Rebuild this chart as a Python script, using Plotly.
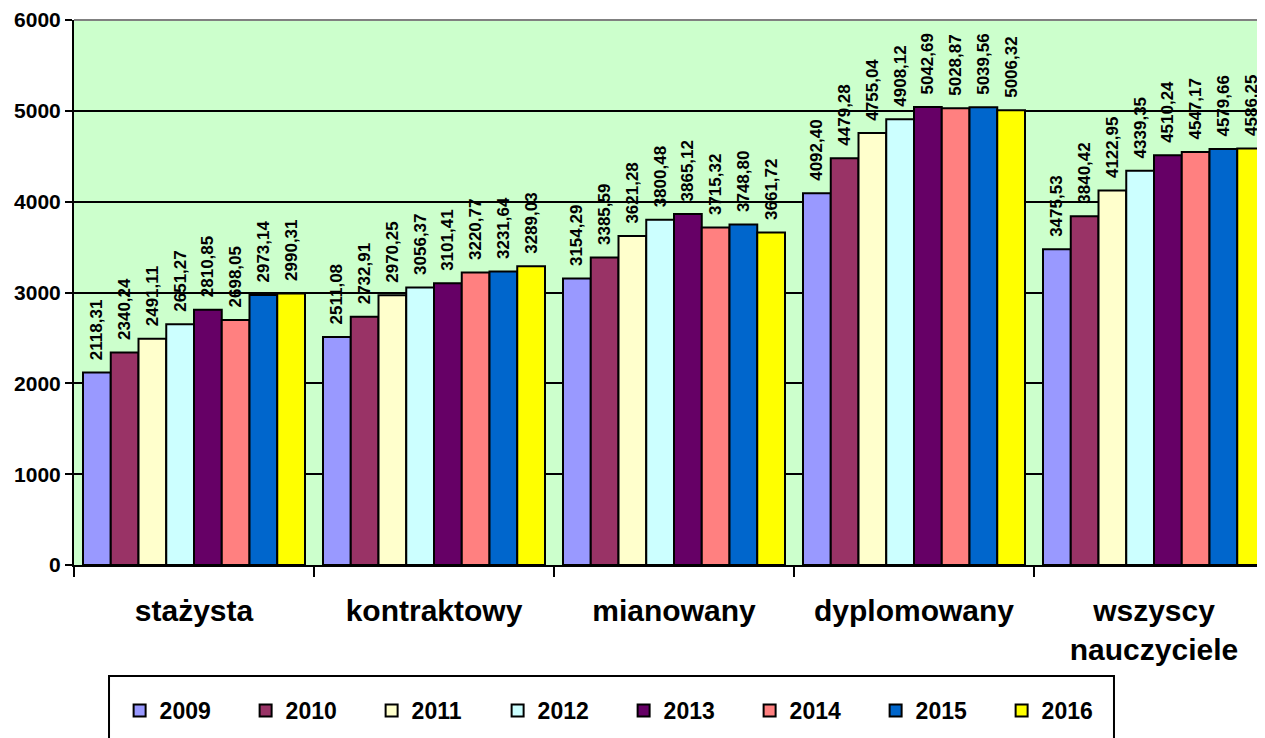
import plotly.graph_objects as go

categories = ["stażysta", "kontraktowy", "mianowany", "dyplomowany", "wszyscy<br>nauczyciele"]
years = ["2009", "2010", "2011", "2012", "2013", "2014", "2015", "2016"]
values = {
    "2009": [2118.31, 2511.08, 3154.29, 4092.40, 3475.53],
    "2010": [2340.24, 2732.91, 3385.59, 4479.28, 3840.42],
    "2011": [2491.11, 2970.25, 3621.28, 4755.04, 4122.95],
    "2012": [2651.27, 3056.37, 3800.48, 4908.12, 4339.35],
    "2013": [2810.85, 3101.41, 3865.12, 5042.69, 4510.24],
    "2014": [2698.05, 3220.77, 3715.32, 5028.87, 4547.17],
    "2015": [2973.14, 3231.64, 3748.80, 5039.56, 4579.66],
    "2016": [2990.31, 3289.03, 3661.72, 5006.32, 4586.25],
}
colors = ["#9999FF", "#993366", "#FFFFCC", "#CCFFFF", "#660066", "#FF8080", "#0066CC", "#FFFF00"]
y_ticks = [0, 1000, 2000, 3000, 4000, 5000, 6000]

fig = go.Figure()
for yr, col in zip(years, colors):
    vals = values[yr]
    fig.add_trace(go.Bar(
        name=yr, x=categories, y=vals,
        marker=dict(color=col, line=dict(color="black", width=2)),
        text=["\u00a0\u00a0" + f"{v:.2f}".replace(".", ",") for v in vals],
        textposition="outside", textangle=-90, constraintext="none",
        textfont=dict(family="Arial", size=17, color="black", weight="bold"),
        cliponaxis=False,
    ))

fig.update_layout(
    width=1257, height=730,
    barmode="group", bargap=0.075, bargroupgap=0,
    plot_bgcolor="#CCFFCC", paper_bgcolor="white",
    margin=dict(l=66, r=0, t=12, b=173, autoexpand=False),
    font=dict(family="Arial", color="black"),
    xaxis=dict(
        type="category", range=[-0.5, 4.4625], tickson="boundaries",
        ticks="outside", ticklen=10, tickwidth=2, tickcolor="black",
        showline=True, linecolor="black", linewidth=2,
        showgrid=False, automargin=False,
        tickfont=dict(family="Arial", size=30, color="black", weight="bold"),
        ticklabelstandoff=18,
    ),
    yaxis=dict(
        range=[0, 6000], tickvals=y_ticks, ticktext=[str(t) for t in y_ticks],
        ticks="outside", ticklen=7, tickwidth=2, tickcolor="black",
        showline=True, linecolor="black", linewidth=2, automargin=False,
        showgrid=True, gridcolor="black", gridwidth=2, zeroline=False,
        tickfont=dict(family="Arial", size=21, color="black", weight="bold"),
    ),
    legend=dict(
        orientation="h", x=0.0383, xanchor="left", y=-0.2275, yanchor="top",
        entrywidth=81, bgcolor="rgba(0,0,0,0)", borderwidth=0,
        font=dict(family="Arial", size=23, color="black", weight="bold"),
        itemwidth=30, traceorder="normal",
    ),
    shapes=[
        dict(type="line", xref="paper", yref="paper", x0=0, x1=1, y0=1, y1=1,
             line=dict(color="#808080", width=2)),
        dict(type="rect", xref="paper", yref="paper", x0=0.0294, x1=0.8732,
             y0=-0.2037, y1=-0.36, line=dict(color="black", width=2),
             fillcolor="rgba(0,0,0,0)"),
    ],
)
fig.write_html("out.html")
